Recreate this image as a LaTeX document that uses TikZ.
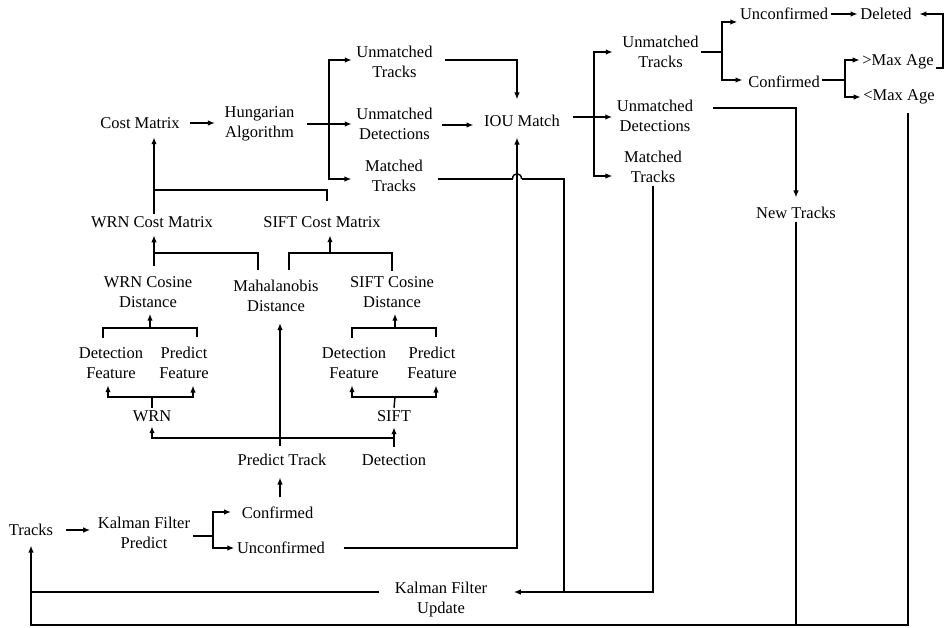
\documentclass[tikz,border=0pt]{standalone}
\usepackage{fontspec}
\setmainfont{Liberation Serif}
\usetikzlibrary{arrows.meta,calc}
\begin{document}
\begin{tikzpicture}[x=1pt,y=-1pt,line width=1.4pt,
  lbl/.style={font=\fontsize{16.5}{20}\selectfont,align=center,inner sep=2pt},
  arr/.style={-{Latex[length=7pt,width=5.5pt]}}]
\useasboundingbox (0,0) rectangle (945,628);
% nodes
\node[lbl] (costm) at (140,123) {Cost Matrix};
\node[lbl] (hung) at (259.5,124) {Hungarian\\Algorithm};
\node[lbl] (umt) at (394.5,62) {Unmatched\\Tracks};
\node[lbl] (umd) at (394.5,123.5) {Unmatched\\Detections};
\node[lbl] (mt) at (394,176) {Matched\\Tracks};
\node[lbl] (iou) at (522,121) {IOU Match};
\node[lbl] (umt2) at (660.5,52) {Unmatched\\Tracks};
\node[lbl] (umd2) at (655,116) {Unmatched\\Detections};
\node[lbl] (mt2) at (653,167) {Matched\\Tracks};
\node[lbl] (uncf) at (784,14) {Unconfirmed};
\node[lbl] (del) at (886,14) {Deleted};
\node[lbl] (conf) at (784,82) {Confirmed};
\node[lbl] (gtmax) at (898,62) {>Max Age};
\node[lbl] (ltmax) at (899,97) {<Max Age};
\node[lbl] (newt) at (796,213) {New Tracks};
\node[lbl] (wrncm) at (152,222) {WRN Cost Matrix};
\node[lbl] (siftcm) at (322,222) {SIFT Cost Matrix};
\node[lbl] (wrncos) at (148,292.5) {WRN Cosine\\Distance};
\node[lbl] (maha) at (276,295.5) {Mahalanobis\\Distance};
\node[lbl] (siftcos) at (392,292.5) {SIFT Cosine\\Distance};
\node[lbl] (df1) at (111,363) {Detection\\Feature};
\node[lbl] (pf1) at (184,363) {Predict\\Feature};
\node[lbl] (df2) at (354,363) {Detection\\Feature};
\node[lbl] (pf2) at (432,363) {Predict\\Feature};
\node[lbl] (wrn) at (152,416) {WRN};
\node[lbl] (sift) at (394,416) {SIFT};
\node[lbl] (pt) at (282,460) {Predict Track};
\node[lbl] (det) at (394,460) {Detection};
\node[lbl] (tracks) at (31,530) {Tracks};
\node[lbl] (kfp) at (144,533) {Kalman Filter\\Predict};
\node[lbl] (conf1) at (277.5,513) {Confirmed};
\node[lbl] (unconf1) at (281,548) {Unconfirmed};
\node[lbl] (kfu) at (441,600) {Kalman Filter\\Update};
% junction coordinates
\coordinate (b1) at (329,124);
\coordinate (vx) at (517,179);
\coordinate (mtc) at (564,179);
\coordinate (b2) at (594,117);
\coordinate (b3) at (722,52);
\coordinate (b4) at (845,80);
\coordinate (rx) at (943,40);
\coordinate (bot) at (30,625);
\coordinate (kin) at (564,592);
\coordinate (b5) at (213,536);
\coordinate (jl) at (394,438);
\coordinate (jw) at (152,397);
\coordinate (jc1) at (150,328);
\coordinate (jw2) at (395,397);
\coordinate (jc2) at (395,328);
\coordinate (jm1) at (154,253);
\coordinate (jm2) at (330,253);
\coordinate (jt) at (154,190);
% connectors: top matching
\draw[arr,shorten <=8pt,shorten >=7pt] (costm.east) -- (costm.east -| hung.west);
\draw[arr,shorten <=10pt,shorten >=2pt] (hung.east) -- (hung.east -| umd.west);
\draw[arr,shorten >=2pt] (b1) |- ([yshift=2pt]umt.west);
\draw[arr,shorten >=11pt] (b1) |- ([yshift=-3pt]mt.west);
\draw[arr,shorten <=10pt,shorten >=13pt] ([yshift=2pt]umt.east) -| (vx |- iou.north);
\draw[arr,shorten <=7pt,shorten >=8pt] ([yshift=-1.5pt]umd.east) -- ([yshift=-1.5pt]umd.east -| iou.west);
\draw[shorten <=12pt] ([yshift=-3pt]mt.east) -- ([xshift=-4.5pt]vx);
\draw ([xshift=-4.5pt]vx) .. controls ([xshift=-4.5pt,yshift=7pt]vx) and ([xshift=4.5pt,yshift=7pt]vx) .. ([xshift=4.5pt]vx);
\draw ([xshift=4.5pt]vx) -- (mtc) -- (kin);
% IOU outputs
\draw[shorten <=10pt] (iou.east |- b2) -- (b2);
\draw[arr,shorten >=7pt] (b2) |- (umt2.west);
\draw[arr,shorten >=2pt] (b2) -- (b2 -| umd2.west);
\draw[arr,shorten >=9pt] (b2) |- ([yshift=-9pt]mt2.west);
\draw (umt2.east) -- (b3);
\draw[arr] (b3) |- ([yshift=-8pt]uncf.west);
\draw[arr,shorten >=3pt] (b3) |- ([yshift=2pt]conf.west);
\draw[arr] (uncf.east) -- (del.west);
\draw ([yshift=2pt]conf.east) -- (b4);
\draw[arr] (b4) |- ([yshift=2pt]gtmax.west);
\draw[arr] (b4) |- (ltmax.west);
\draw[arr,shorten >=5pt] ([yshift=-6pt]gtmax.east) -- ([yshift=-6pt]gtmax.east -| rx) -- (rx |- del.east) -- (del.east);
\draw[arr,shorten <=17pt,shorten >=7pt] ([yshift=8pt]umd2.east) -| (newt.north);
\draw (newt.south) -- (newt.south |- bot);
\draw[arr,shorten <=6pt,shorten >=7pt] ([xshift=9pt]ltmax.south) -- ([xshift=9pt]ltmax.south |- bot) -- (tracks.south |- bot) -- (tracks.south);
\draw[arr,shorten >=24pt] (mt2.south) |- (kfu.east |- kin);
\draw[shorten <=13pt] (kfu.west |- kin) -- (tracks.south |- kin);
% prediction part
\draw[arr,shorten <=10pt,shorten >=5pt] (tracks.east) -- (tracks.east -| kfp.west);
\draw (kfp.east |- b5) -- (b5);
\draw[arr,shorten >=8pt] (b5) |- ([yshift=1pt]conf1.west);
\draw[arr] (b5) |- (unconf1.west);
\draw[arr,shorten <=7pt,shorten >=9pt] ([xshift=2.5pt]conf1.north) -- ([xshift=2.5pt]conf1.north |- pt.south);
\draw[arr,shorten <=5pt,shorten >=9pt] ([xshift=-2pt]pt.north) -- ([xshift=-2pt]pt.north |- maha.south);
\draw[arr,shorten <=5pt,shorten >=3pt] (det.north) -- (sift.south);
\draw[arr,shorten >=2pt] (jl) -| (wrn.south);
\draw[arr,shorten <=16pt,shorten >=8pt] (unconf1.east) -| (vx |- iou.south);
% features
\draw (wrn.north) -- (jw);
\draw[arr,shorten >=4pt] (jw) -| ([xshift=-3pt]df1.south);
\draw[arr,shorten >=4pt] (jw) -| ([xshift=9pt]pf1.south);
\draw (sift.north) -- (jw2);
\draw[arr,shorten >=4pt] (jw2) -| ([xshift=-2pt]df2.south);
\draw[arr,shorten >=4pt] (jw2) -| ([xshift=4pt]pf2.south);
\draw[shorten <=7pt,shorten >=7pt] ([xshift=-8pt]df1.north) |- (jc1) -| ([xshift=13pt]pf1.north);
\draw[arr,shorten >=3pt] (jc1) -- (jc1 |- wrncos.south);
\draw[shorten <=7pt,shorten >=7pt] ([xshift=-2pt]df2.north) |- (jc2) -| ([xshift=4pt]pf2.north);
\draw[arr,shorten >=3pt] (jc2) -- (jc2 |- siftcos.south);
% cosine to cost matrices
\draw[arr,shorten <=8pt,shorten >=5pt] (jm1 |- wrncos.north) -- (jm1 |- wrncm.south);
\draw[shorten >=7pt] (jm1) -| ([xshift=-18pt]maha.north);
\draw[shorten <=7pt,shorten >=3pt] ([xshift=13pt]maha.north) |- (jm2) -| (siftcos.north);
\draw[arr,shorten >=5pt] (jm2) -- (jm2 |- siftcm.south);
\draw[arr,shorten >=6pt] (jt |- wrncm.north) -- (jt |- costm.south);
\draw[shorten >=13pt] (jt) -| ([xshift=5pt]siftcm.north);
\end{tikzpicture}
\end{document}
